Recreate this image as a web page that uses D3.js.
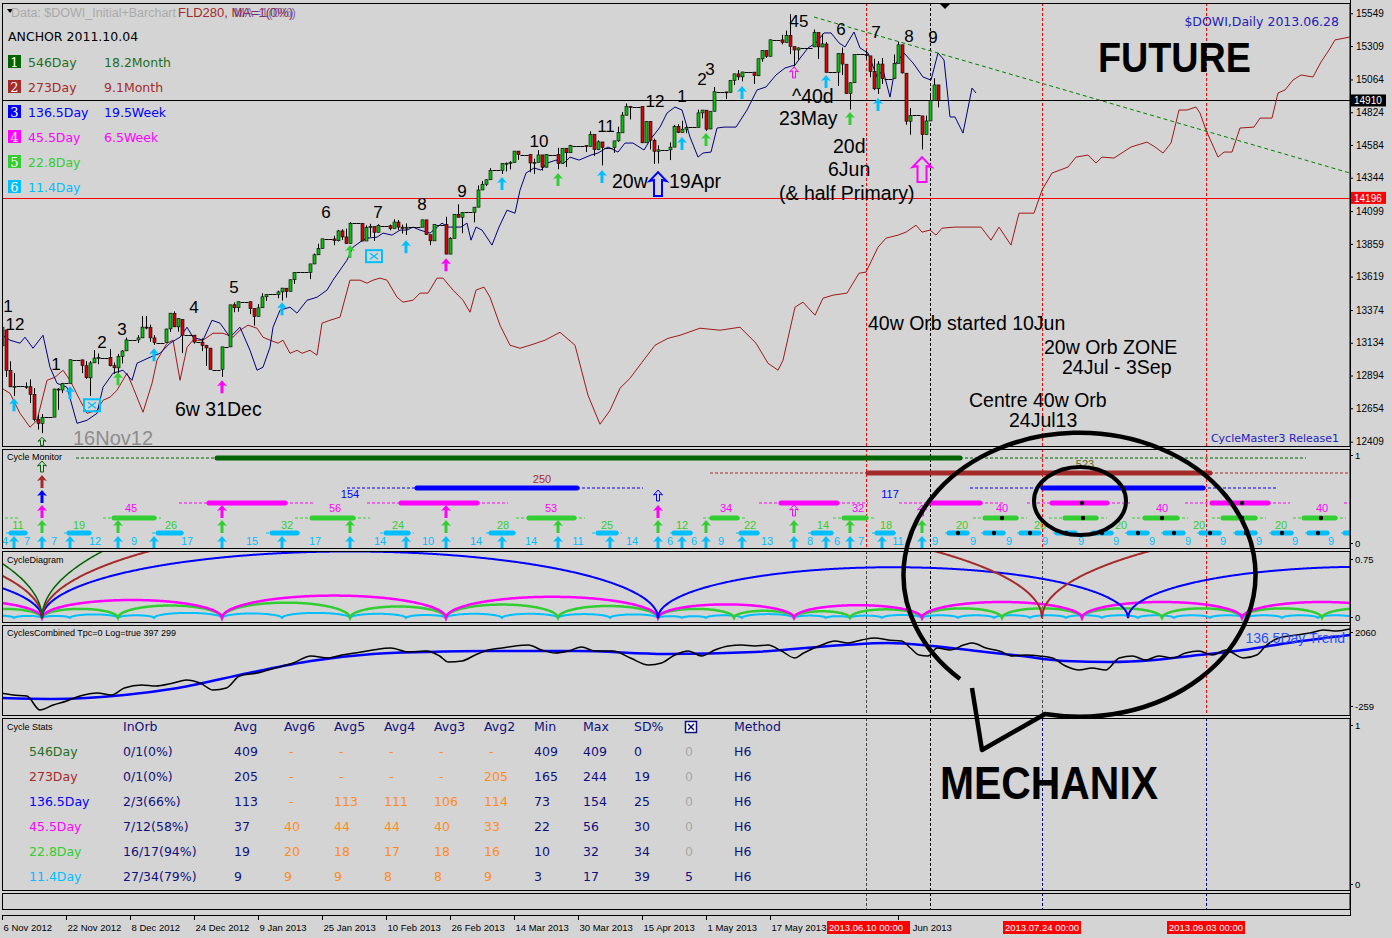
<!DOCTYPE html>
<html><head><meta charset="utf-8">
<script src="https://d3js.org/d3.v7.min.js"></script>
<style>
html,body{margin:0;padding:0;background:#d4d4d4;}
svg{display:block;}
</style></head><body>
<svg id="chart" width="1392" height="938" font-family="Liberation Sans, Arial, sans-serif"></svg>
<script>
// ======================= DATA =======================
// Daily candles: date, open, high, low, close ($DOWI)
const candles = [
["2012-11-06",13112,13290,13109,13245],["2012-11-07",13228,13228,12883,12932],["2012-11-08",12932,12999,12811,12811],
["2012-11-09",12811,12913,12743,12815],["2012-11-12",12815,12844,12796,12815],["2012-11-13",12812,12866,12692,12756],
["2012-11-14",12756,12802,12558,12571],["2012-11-15",12571,12607,12498,12542],["2012-11-16",12542,12611,12471,12588],
["2012-11-19",12589,12796,12589,12795],["2012-11-20",12795,12801,12643,12788],["2012-11-21",12788,12840,12765,12836],
["2012-11-23",12836,13010,12836,13010],["2012-11-26",13009,13009,12912,12968],["2012-11-27",12966,13000,12870,12878],
["2012-11-28",12877,13000,12743,12986],["2012-11-29",12987,13081,12987,13022],["2012-11-30",13022,13056,12977,13026],
["2012-12-03",13026,13088,12961,12966],["2012-12-04",12966,12989,12906,12951],["2012-12-05",12950,13052,12912,13034],
["2012-12-06",13034,13081,12983,13074],["2012-12-07",13075,13172,13075,13155],["2012-12-10",13155,13190,13133,13170],
["2012-12-11",13170,13329,13169,13249],["2012-12-12",13249,13331,13233,13245],["2012-12-13",13245,13267,13142,13170],
["2012-12-14",13170,13190,13119,13135],["2012-12-17",13135,13237,13135,13235],["2012-12-18",13236,13351,13213,13351],
["2012-12-19",13350,13364,13250,13251],["2012-12-20",13251,13312,13215,13312],["2012-12-21",13306,13306,13058,13190],
["2012-12-24",13190,13190,13128,13139],["2012-12-26",13139,13167,13073,13114],["2012-12-27",13114,13119,12964,13096],
["2012-12-28",13095,13095,12938,12938],["2012-12-31",12938,13104,12884,13104],["2013-01-02",13104,13412,13104,13412],
["2013-01-03",13413,13430,13358,13391],["2013-01-04",13391,13436,13362,13435],["2013-01-07",13435,13435,13344,13384],
["2013-01-08",13385,13385,13260,13328],["2013-01-09",13328,13418,13328,13390],["2013-01-10",13391,13497,13391,13471],
["2013-01-11",13471,13489,13441,13488],["2013-01-14",13488,13516,13460,13507],["2013-01-15",13507,13535,13443,13535],
["2013-01-16",13534,13534,13465,13511],["2013-01-17",13511,13598,13511,13596],["2013-01-18",13596,13650,13565,13650],
["2013-01-22",13650,13713,13601,13712],["2013-01-23",13712,13788,13710,13779],["2013-01-24",13779,13860,13778,13825],
["2013-01-25",13825,13895,13825,13896],["2013-01-28",13895,13918,13849,13882],["2013-01-29",13882,13962,13877,13954],
["2013-01-30",13954,13966,13888,13910],["2013-01-31",13910,13970,13858,13861],["2013-02-01",13861,14019,13861,14010],
["2013-02-04",14010,14010,13879,13880],["2013-02-05",13880,13995,13880,13979],["2013-02-06",13979,14006,13910,13987],
["2013-02-07",13986,13986,13881,13944],["2013-02-08",13944,14003,13944,13993],["2013-02-11",13992,14000,13958,13971],
["2013-02-12",13971,14039,13971,14019],["2013-02-13",14019,14035,13961,13982],["2013-02-14",13982,14000,13935,13973],
["2013-02-15",13973,14009,13924,13981],["2013-02-19",13981,14036,13981,14035],["2013-02-20",14035,14035,13926,13927],
["2013-02-21",13926,13926,13849,13881],["2013-02-22",13881,14002,13881,14000],["2013-02-25",14000,14058,13784,13784],
["2013-02-26",13784,13908,13784,13900],["2013-02-27",13900,14076,13900,14076],["2013-02-28",14076,14149,14054,14054],
["2013-03-01",14054,14090,13937,14090],["2013-03-04",14090,14128,14017,14128],["2013-03-05",14128,14287,14128,14254],
["2013-03-06",14254,14320,14254,14296],["2013-03-07",14296,14331,14282,14329],["2013-03-08",14329,14414,14329,14397],
["2013-03-11",14397,14448,14371,14448],["2013-03-12",14448,14456,14390,14450],["2013-03-13",14450,14466,14405,14455],
["2013-03-14",14455,14539,14455,14539],["2013-03-15",14539,14539,14475,14514],["2013-03-18",14514,14514,14384,14452],
["2013-03-19",14452,14484,14372,14456],["2013-03-20",14456,14546,14456,14511],["2013-03-21",14511,14511,14396,14421],
["2013-03-22",14421,14514,14421,14513],["2013-03-25",14513,14563,14406,14448],["2013-03-26",14448,14560,14448,14560],
["2013-03-27",14560,14560,14423,14527],["2013-03-28",14527,14585,14527,14579],["2013-04-01",14579,14580,14532,14573],
["2013-04-02",14573,14684,14573,14662],["2013-04-03",14662,14662,14504,14550],["2013-04-04",14550,14618,14546,14607],
["2013-04-05",14606,14606,14434,14565],["2013-04-08",14565,14613,14526,14614],["2013-04-09",14614,14718,14607,14674],
["2013-04-10",14673,14826,14673,14803],["2013-04-11",14802,14888,14802,14866],["2013-04-12",14866,14866,14771,14865],
["2013-04-15",14865,14865,14598,14600],["2013-04-16",14600,14757,14600,14757],["2013-04-17",14757,14757,14551,14619],
["2013-04-18",14618,14630,14445,14537],["2013-04-19",14537,14581,14449,14548],["2013-04-22",14548,14603,14473,14568],
["2013-04-23",14568,14731,14568,14720],["2013-04-24",14719,14736,14671,14676],["2013-04-25",14676,14761,14676,14700],
["2013-04-26",14700,14725,14670,14712],["2013-04-29",14712,14842,14712,14819],["2013-04-30",14819,14840,14779,14840],
["2013-05-01",14839,14839,14687,14700],["2013-05-02",14701,14831,14701,14831],["2013-05-03",14831,15009,14831,14974],
["2013-05-06",14973,14973,14920,14969],["2013-05-07",14969,15056,14969,15056],["2013-05-08",15056,15106,15023,15105],
["2013-05-09",15105,15133,15060,15083],["2013-05-10",15083,15119,15050,15119],["2013-05-13",15118,15118,15031,15092],
["2013-05-14",15091,15216,15091,15216],["2013-05-15",15215,15277,15194,15276],["2013-05-16",15276,15276,15223,15234],
["2013-05-17",15234,15355,15234,15355],["2013-05-20",15354,15391,15321,15335],["2013-05-21",15335,15422,15335,15388],
["2013-05-22",15387,15542,15250,15307],["2013-05-23",15305,15305,15160,15280],["2013-05-24",15280,15300,15210,15295],
["2013-05-28",15303,15430,15303,15409],["2013-05-29",15408,15408,15215,15303],["2013-05-30",15302,15399,15301,15325],
["2013-05-31",15324,15340,15116,15116],["2013-06-03",15117,15254,15017,15254],["2013-06-04",15253,15298,15097,15177],
["2013-06-05",15176,15176,14958,14960],["2013-06-06",14961,15041,14844,15040],["2013-06-07",15040,15248,15040,15248],
["2013-06-10",15248,15280,15209,15239],["2013-06-11",15237,15237,15080,15122],["2013-06-12",15122,15216,14986,14996],
["2013-06-13",14996,15198,14958,15177],["2013-06-14",15177,15221,15030,15070],["2013-06-17",15070,15247,15070,15180],
["2013-06-18",15180,15340,15180,15318],["2013-06-19",15318,15318,15108,15112],["2013-06-20",15110,15110,14732,14758],
["2013-06-21",14758,14854,14659,14800],["2013-06-24",14797,14797,14551,14660],["2013-06-25",14660,14799,14660,14760],
["2013-06-26",14760,14966,14760,14910],["2013-06-27",14910,15073,14910,15024],["2013-06-28",15024,15024,14860,14910]
];
const priceTicks = [15549,15309,15064,14824,14584,14344,14099,13859,13619,13374,13134,12894,12654,12409];
const lastPrice = 14910, redLevel = 14196;
// Slow FLD (dark red) : [day offset from 6 Nov 2012, price]
const fldSlow = [[-0.5,12808],[2,12764],[4.5,12617],[7,12515],[8.75,12566],[11.25,12859],[13.25,12881],[15.25,12933],[17,12859],[19.5,12713],[21.25,12617],[23.75,12639],[25.25,12713],[27,12735],[28.75,12786],[31.25,12911],[32.75,12808],[35.25,12625],[37.5,12837],[38.75,13006],[41.25,13131],[42.75,13153],[44.5,12859],[46.25,13101],[47.75,13153],[50.25,13153],[52.75,13204],[55.25,13204],[57.75,13175],[59.5,13226],[61.5,13263],[63.75,13241],[65.25,13175],[67,13153],[69,13131],[70.25,13153],[72,13057],[73.75,13079],[75,13057],[77,13079],[78.75,13043],[80,13278],[82,13299],[84.5,13322],[87,13593],[89.5,13593],[91.25,13571],[92.75,13593],[94.5,13608],[96.25,13593],[98.75,13468],[100.25,13432],[102.75,13446],[104.5,13498],[106.5,13498],[108.75,13608],[110.25,13608],[112.75,13520],[115.25,13446],[117,13358],[118.5,13520],[120.5,13542],[122,13468],[124.5,13263],[127,13116],[129.5,13094],[132,13116],[135.75,13153],[139.5,13211],[143.25,13116],[146.5,12749],[149.5,12537],[152,12639],[154.5,12801],[157,12874],[160,12991],[163.25,13116],[166.5,13167],[169.5,13189],[174.5,13241],[179.5,13226],[184.5,13248],[188.5,13131],[191.5,12984],[194,12933],[195.25,13006],[198.25,13395],[200.25,13432],[203.25,13336],[205.25,13461],[207.75,13483],[211.25,13498],[214.25,13644],[216,13652],[219,13835],[221,13901],[224,13923],[226,13945],[228.5,13996],[230,13945],[232,13960],[233.5,13923],[235,13974],[238.25,13982],[244.75,13982],[247.25,13886],[249.25,13982],[252.25,13850],[254.25,14084],[258,14084],[260,14253],[262.5,14378],[266.5,14422],[268.5,14495],[271.5,14510],[273.5,14451],[275,14495],[278,14488],[282.25,14569],[286.25,14605],[288.25,14569],[290.25,14525],[292.25,14598],[294.25,14840],[296.25,14840],[298.5,14862],[299.5,14818],[301,14693],[304,14495],[305.5,14532],[307.5,14532],[309.5,14708],[313,14715],[314.5,14781],[317.5,14781],[319,14965],[320.75,14987],[322.75,15060],[324.75,15097],[327.75,15082],[329.75,15192],[331.75,15280],[333.25,15354],[335.75,15368],[337,15376]];
// Fast FLD (navy)
const fldFast = [[-0.5,13204],[2,13153],[4.5,13131],[5.75,13175],[7.75,13094],[10.25,13189],[12,12955],[13.75,12837],[16.25,12808],[18.75,12544],[21.25,12566],[23.75,12617],[25.25,12808],[27.75,12911],[30.25,12933],[32.5,12859],[33.75,12984],[37,13028],[39.5,13057],[42,13131],[44.5,13175],[46.25,13248],[47.75,13175],[50.25,13153],[52.5,13299],[54.5,13278],[57,13175],[59.5,13248],[62,13079],[63.75,12933],[65.25,12955],[67,13101],[67.75,13248],[69.5,13373],[72,13395],[73.75,13351],[76.25,13446],[78.75,13468],[81.25,13520],[82.75,13593],[86.25,13740],[87.75,13835],[89.5,13872],[91.25,13901],[93.75,13908],[95.25,13938],[97.5,13923],[99.5,13960],[101.25,13960],[102.75,13982],[104.5,13960],[107,13938],[110,14011],[111.5,13982],[114.75,13982],[116.25,14011],[117.25,13886],[118.5,13982],[120,13960],[122.5,13850],[124.25,13982],[126.25,14106],[128.25,14084],[129.5,14253],[131,14378],[133,14415],[134.75,14400],[136.25,14451],[138.5,14473],[140.5,14451],[142,14495],[144.25,14473],[147.25,14510],[149,14525],[151.5,14569],[154,14532],[155.75,14598],[157.75,14598],[160.5,14547],[162,14620],[164.5,14715],[166.25,14818],[168.25,14862],[170,14840],[172,14642],[174,14495],[175.25,14525],[177.25,14532],[178.75,14708],[180.5,14715],[183.5,14715],[186.25,14840],[188.75,14987],[191,15009],[193.5,15097],[195.75,15148],[198.25,15170],[199.75,15229],[201.5,15295],[203.5,15332],[205.5,15405],[207.25,15405],[209.25,15332],[210.75,15302],[213,15412],[214.5,15295],[216.5,15258],[218.75,15082],[220.25,15133],[222,14935],[223.5,15185],[225.5,15258],[227.75,15185],[230.25,15082],[232.25,15060],[234,15258],[235.5,15207],[237,14789],[238.25,14789],[240.25,14671],[242.5,15001],[243.5,14965]];
const trendLine = [[203,15522],[337,14378]];
// price-panel cycle arrows [day, price at tip]
const cyanMarks = [[3,12727],[17,12815],[38,13094],[70,13432],[101,13886],[125,14349],[150,14400],[170,14642],[185,15016],[206,15097],[219,14928]];
const greenMarks = [[29,12918],[87,13850],[139,14378],[176,14671],[212,14825]];
const magentaMarks = [[55,12859],[111,13754]];
const cyanBoxes = [[22.5,12676],[93,13769]];
const peakLabels = [[1.5,13358,"1"],[3.25,13226,"12"],[13.5,12933,"1"],[25,13094,"2"],[30,13189,"3"],[48,13351,"4"],[58,13498,"5"],[81,14048,"6"],[94,14048,"7"],[105,14106,"8"],[115,14202,"9"],[134.25,14569,"10"],[151,14679,"11"],[163.25,14862,"12"],[170,14899,"1"],[175,15023,"2"],[177,15097,"3"],[199.25,15449,"45"],[209.75,15390,"6"],[218.5,15368,"7"],[226.75,15339,"8"],[232.75,15332,"9"]];
const notes = [[43.25,12595,"6w 31Dec"],[152.5,14268,"20w"],[166.75,14268,"19Apr"],[197.5,14891,"^40d"],[194.25,14730,"23May"],[207.75,14525,"20d"],[206.5,14356,"6Jun"],[194.25,14180,"(& half Primary)"],[216.5,13226,"40w Orb started 10Jun"],[260.5,13050,"20w Orb ZONE"],[265,12905,"24Jul - 3Sep"],[241.75,12660,"Centre 40w Orb"],[251.75,12515,"24Jul13"]];
const xTicks = [[0,"6 Nov 2012"],[16,"22 Nov 2012"],[32,"8 Dec 2012"],[48,"24 Dec 2012"],[64,"9 Jan 2013"],[80,"25 Jan 2013"],[96,"10 Feb 2013"],[112,"26 Feb 2013"],[128,"14 Mar 2013"],[144,"30 Mar 2013"],[160,"15 Apr 2013"],[176,"1 May 2013"],[192,"17 May 2013"],[224,"18 Jun 2013"]];
const markerDays = [[216,"2013.06.10 00:00"],[260,"2013.07.24 00:00"],[301,"2013.09.03 00:00"]];
const nowDay = 232;
// legend
const legendCycles = [["1","546Day","18.2Month"],["2","273Day","9.1Month"],["3","136.5Day","19.5Week"],["4","45.5Day","6.5Week"],["5","22.8Day",""],["6","11.4Day",""]];
// cycle monitor bars [dashStart, thickStart, thickEnd, dashEnd] (days)
const monDkGreen = [[18.5,53.75,239.5,326]];
const monBrown = [[177,216.5,302,337]];
const monBlue = [[86.25,103.75,143.75,160.25],[242,260.25,300.25,318.75]];
const monMagenta = [[44.25,51.75,70.75,78.25],[91.25,99.75,118.75,126.5],[189.25,194.75,208.75,216.5],[224.25,231.75,244.5,250.25],[256.25,262.5,276.25,282],[295.75,302.5,316.5,322],[335.5,337,337,337]];
const monMagentaDots = [270,310];
const monGreen = [[-0.5,-0.5,-0.5,4.5],[25.25,28,38,39.75],[73.25,77.5,87.75,92],[128.5,131.75,143,145.75],[175.25,177.5,183.75,186.25],[207.75,210.5,216,218.25],[242.75,245.75,253.5,256.25],[261.75,265.75,273.5,276.25],[282.5,285.75,293.75,296.5],[302.5,305.25,313.25,316],[322.75,325.5,333.25,336]];
const monGreenDots = [250,270.25,290,310,329.75];
const monCyan = [[1,2.25,5.75,7],[15.5,16.75,21.75,23],[37.5,39,44.75,46],[66,67.5,73.75,75],[94.5,96,101.5,103],[121,122.25,127.75,129],[147.5,149,153.5,155],[167,168,172,173],[183.5,184.75,188.75,190],[201.5,202.75,207.25,208.5],[217.5,218.75,222.75,224],[235.75,236.75,241.25,242.25],[244.75,245.75,250.25,251.25],[253.75,254.75,259.25,260.25],[262.75,263.75,268.25,269.25],[271.75,272.75,277.25,278.25],[280.75,281.75,286.25,287.25],[289.75,290.75,295.25,296.25],[298.75,299.75,304.25,305.25],[307.75,308.75,313.25,314.25],[316.75,317.75,322.25,323.25],[325.75,326.75,331.25,332.25],[334.75,335.75,337,337]];
const monCyanDots = [239,248,257,266,275,284,293,302,311,320,329];
const monMagentaLabels = [[32.25,"45"],[83.25,"56"],[137.25,"53"],[181,"34"],[214,"32"],[250,"40"],[290,"40"],[330,"40"]];
const monGreenLabels = [[4,"11"],[19.25,"19"],[42.25,"26"],[71.25,"32"],[99,"24"],[125.25,"28"],[151.25,"25"],[170,"12"],[187,"22"],[205.25,"14"],[221,"18"],[240,"20"],[259.5,"20"],[279.75,"20"],[299.25,"20"],[319.75,"20"]];
const monCyanLabels = [[0.75,"4"],[6.25,"7"],[13,"7"],[23.25,"12"],[33,"9"],[46.25,"17"],[62.5,"15"],[78.25,"17"],[94.5,"14"],[106.5,"10"],[118.5,"14"],[132.25,"14"],[144,"11"],[157.5,"14"],[167,"6"],[173,"6"],[179.75,"9"],[191.25,"13"],[202,"8"],[208.75,"6"],[214.75,"7"],[224,"11"],[233.25,"9"],[242.75,"9"],[251.75,"9"],[260.75,"9"],[269.75,"9"],[278.5,"9"],[287.5,"9"],[296.5,"9"],[305.25,"9"],[314.25,"9"],[323.25,"9"],[332.25,"9"]];
const monCyanArrows = [3,10,17,29,38,55,70,87,101,111,125,139,152,164,170,176,185,198,206,212,220,230];
const monGreenArrows = [10,29,55,87,111,139,164,176,198,212,230];
const monMagentaArrows = [10,55,111,164];
const monMagentaHollow = [198,230];
// cycle diagram troughs (days) per cycle
const trCyan = [-5,3,10,17,29,38,55,70,87,101,111,125,139,152,164,170,176,185,198,206,212,220,230,239,248,257,266,275,284,293,302,311,320,329,338];
const trGreen = [-9,10,29,55,87,111,139,164,183,198,212,230,250,270,290,310,330,350];
const trMagenta = [-35,10,55,111,164,198,230,270,310,350];
const trBlue = [-120,10,164,281.5,400];
const trBrown = [-240,10,260,510];
const trDkGreen = [-400,10,420];
// cycles combined
const combined = [[-0.5,199],[2.8,138],[6.2,107],[9.5,-320],[12.8,-167],[16.2,-45],[19.5,107],[23.9,199],[27.3,138],[30.6,351],[35,443],[38.4,412],[42.8,504],[46.1,595],[49.5,504],[52.8,290],[56.1,351],[59.4,717],[63.9,809],[68.3,961],[72.8,1114],[77.2,1328],[81.6,1267],[85,1358],[88.3,1419],[92.7,1511],[97.2,1572],[101.6,1450],[106.1,1480],[109.4,1328],[111.6,1144],[115,1175],[118.3,1358],[121.6,1511],[125,1572],[128.3,1633],[131.6,1663],[134.9,1511],[138.3,1419],[141.6,1480],[144.9,1602],[148.2,1480],[152.7,1480],[157.1,1267],[161.6,1053],[164.9,1114],[168.2,1358],[171.6,1480],[174.9,1328],[178.2,1511],[181.6,1633],[184.9,1663],[188.2,1633],[191.5,1663],[194.9,1480],[198.2,1267],[200.4,1419],[204.9,1663],[208.2,1785],[211.5,1724],[214.9,1816],[218.2,1877],[221.5,1816],[224.9,1785],[227.1,1572],[229.3,1358],[231.5,1328],[233.8,1572],[237.1,1511],[240.4,1663],[242.6,1724],[246,1572],[249.3,1480],[252.6,1328],[255.9,1358],[259.3,1328],[262.6,1267],[265.9,1022],[269.3,900],[272.5,961],[275.9,900],[279.3,1267],[282.6,1328],[285.9,1205],[289.2,1328],[292.6,1267],[295.9,1419],[299.2,1480],[302.6,1358],[305.9,1511],[310.3,1267],[313.7,1358],[315.9,1633],[319.2,1877],[323.7,1968],[327,2029],[330.3,2121],[333.7,2090],[337,2151]];
const trend1365 = [[-0.5,46],[12.8,16],[30.6,138],[44,351],[61.7,809],[77.2,1175],[92.7,1389],[106.1,1450],[121.6,1480],[143.8,1480],[166,1389],[188.2,1450],[210.4,1663],[221.5,1724],[232.6,1633],[243.8,1480],[254.9,1328],[265.9,1175],[277,1144],[288.1,1205],[299.2,1358],[310.3,1511],[321.4,1724],[337,1968]];
// cycle stats table
const statCycles = ["546Day","273Day","136.5Day","45.5Day","22.8Day","11.4Day"];
const statInOrb = ["0/1(0%)","0/1(0%)","2/3(66%)","7/12(58%)","16/17(94%)","27/34(79%)"];
const statAvg = [409,205,113,37,19,9];
const statAvg6 = ["-","-","-",40,20,9];
const statAvg5 = ["-","-",113,44,18,9];
const statAvg4 = ["-","-",111,44,17,8];
const statAvg3 = ["-","-",106,40,18,8];
const statAvg2 = ["-",205,114,33,16,9];
const statMin = [409,165,73,22,10,3];
const statMax = [409,244,154,56,32,17];
const statSD = [0,19,25,30,34,39];
const statX = [0,0,0,0,0,5];
const statMethod = ["H6","H6","H6","H6","H6","H6"];

// ======================= DRAWING =======================
const svg = d3.select("#chart");
const BG = "#d4d4d4";
const CY="#00bfff", GR="#32cd32", MG="#ff00ff", BL="#0000ff", BR="#a52a2a", DG="#006400";
const DJ = "DejaVu Sans";
const t0 = new Date(2012,10,6);
const dayOf = s => { const [Y,M,D] = s.split("-").map(Number); return d3.timeDay.count(t0, new Date(Y,M-1,D)); };
const x = d3.scaleLinear().domain([0,337]).range([2,1350]);
const y = d3.scaleLinear().domain([12409,15549]).range([441.7,13.3]);
const yDiag = d3.scaleLinear().domain([0,0.75]).range([618,559]);
const yComb = d3.scaleLinear().domain([-259,2060]).range([708,632]);

svg.append("rect").attr("width",1392).attr("height",938).attr("fill",BG);
const panels = [[3,446],[449,548],[551,622],[625,715],[718,890],[893,909]];
const defs = svg.append("defs");
panels.forEach((p,i)=>{
  defs.append("clipPath").attr("id","clip"+i).append("rect").attr("x",2).attr("y",p[0]).attr("width",1348).attr("height",p[1]-p[0]);
});
const gP = panels.map((p,i)=> svg.append("g").attr("clip-path",`url(#clip${i})`));

// ---- vertical day lines
function vline(g, d, top, bot, color, dash){
  g.append("line").attr("x1",Math.round(x(d))+0.5).attr("x2",Math.round(x(d))+0.5).attr("y1",top).attr("y2",bot)
   .attr("stroke",color).attr("stroke-width",1).attr("stroke-dasharray",dash||"3,2");
}
[0,1].forEach(i=>{
  vline(gP[i],216,panels[i][0],panels[i][1],"#ff0000");
  vline(gP[i],nowDay,panels[i][0],panels[i][1],"#000");
  vline(gP[i],260,panels[i][0],panels[i][1],"#ff0000");
  vline(gP[i],301,panels[i][0],panels[i][1],"#ff0000");
});
[2,3].forEach(i=>{
  vline(gP[i],216,panels[i][0],panels[i][1],"#444");
  vline(gP[i],nowDay,panels[i][0],panels[i][1],"#000");
  vline(gP[i],260,panels[i][0],panels[i][1],"#444");
  vline(gP[i],301,panels[i][0],panels[i][1],"#ff0000");
});
[4,5].forEach(i=>{
  vline(gP[i],216,panels[i][0],panels[i][1],"#444");
  vline(gP[i],nowDay,panels[i][0],panels[i][1],"#000");
  vline(gP[i],260,panels[i][0],panels[i][1],"#000080");
  vline(gP[i],301,panels[i][0],panels[i][1],"#000080");
});

// ---- main price panel
const g0 = gP[0];
g0.append("line").attr("x1",2).attr("x2",1350).attr("y1",Math.round(y(lastPrice))+0.5).attr("y2",Math.round(y(lastPrice))+0.5).attr("stroke","#000");
g0.append("line").attr("x1",2).attr("x2",1350).attr("y1",Math.round(y(redLevel))+0.5).attr("y2",Math.round(y(redLevel))+0.5).attr("stroke","#ff0000");
const line = d3.line().x(d=>x(d[0])).y(d=>y(d[1]));
g0.append("path").attr("d",line(fldSlow)).attr("fill","none").attr("stroke","#a01818").attr("stroke-width",1);
g0.append("path").attr("d",line(fldFast)).attr("fill","none").attr("stroke","#000080").attr("stroke-width",1);
g0.append("path").attr("d",line(trendLine)).attr("fill","none").attr("stroke","#008000").attr("stroke-width",1).attr("stroke-dasharray","4,3");

// candles + weekend dashes
const cmap = new Map(candles.map(c=>[dayOf(c[0]),c]));
const lastDay = d3.max(candles, c=>dayOf(c[0]));
let prevClose = candles[0][4];
for(let d=0; d<=lastDay; d++){
  const cx = Math.round(x(d));
  const c = cmap.get(d);
  if(!c){
    g0.append("line").attr("x1",cx-1.5).attr("x2",cx+2.5).attr("y1",Math.round(y(prevClose))+0.5).attr("y2",Math.round(y(prevClose))+0.5).attr("stroke","#000");
    continue;
  }
  const [,o,h,l,cl] = c;
  g0.append("line").attr("x1",cx+0.5).attr("x2",cx+0.5).attr("y1",y(h)).attr("y2",y(l)).attr("stroke","#000");
  const top = Math.min(y(o),y(cl)), ht = Math.max(1,Math.abs(y(o)-y(cl)));
  g0.append("rect").attr("x",cx-1).attr("y",top).attr("width",3).attr("height",ht)
    .attr("fill", cl>=o ? "#00c800" : "#e00000").attr("stroke","#000").attr("stroke-width",0.6);
  prevClose = cl;
}

function upArrow(cx, tip, w, h, sw, hh){
  return `M${cx},${tip} L${cx+w/2},${tip+hh} L${cx+sw/2},${tip+hh-1} L${cx+sw/2},${tip+h} L${cx-sw/2},${tip+h} L${cx-sw/2},${tip+hh-1} L${cx-w/2},${tip+hh} Z`;
}
function marks(g, arr, color){
  arr.forEach(([d,p])=> g.append("path").attr("d",upArrow(x(d),y(p),10,13,3,6)).attr("fill",color));
}
marks(g0,cyanMarks,CY); marks(g0,greenMarks,GR); marks(g0,magentaMarks,MG);
cyanBoxes.forEach(([d,p])=>{
  const cx=x(d), cy=y(p);
  g0.append("rect").attr("x",cx-8).attr("y",cy-6).attr("width",16).attr("height",12).attr("fill","none").attr("stroke",CY).attr("stroke-width",2);
  g0.append("path").attr("d",`M${cx-4},${cy-3} L${cx+4},${cy+3} M${cx+4},${cy-3} L${cx-4},${cy+3}`).attr("stroke",CY).attr("stroke-width",1.3);
});
// hollow arrows
g0.append("path").attr("d",upArrow(x(198),y(15156),9,11,3,5)).attr("fill","none").attr("stroke",MG).attr("stroke-width",1);
g0.append("path").attr("d",upArrow(x(164),y(14385),17,24,8,9)).attr("fill","none").attr("stroke",BL).attr("stroke-width",2);
g0.append("path").attr("d",upArrow(x(230),y(14495),19,25,9,10)).attr("fill","none").attr("stroke",MG).attr("stroke-width",2);
g0.append("path").attr("d",upArrow(x(10),y(12441),8,8,3,4)).attr("fill","none").attr("stroke",DG).attr("stroke-width",1);

peakLabels.forEach(([d,p,t])=> g0.append("text").attr("x",x(d)).attr("y",y(p)).attr("text-anchor","middle").attr("font-size",17).attr("fill","#000").text(t));
notes.forEach(([d,p,t])=> g0.append("text").attr("x",x(d)).attr("y",y(p)).attr("font-size",19.5).attr("fill","#000").text(t));
g0.append("text").attr("x",x(17.75)).attr("y",y(12382)).attr("font-size",20).attr("fill","#8c8c8c").text("16Nov12");
g0.append("text").attr("x",x(274)).attr("y",y(15119)).attr("font-size",42).attr("font-weight","bold").attr("textLength",153).attr("lengthAdjust","spacingAndGlyphs").attr("fill","#000").text("FUTURE");
// top annotations
g0.append("path").attr("d","M7,9 L13,9 L10,13 Z").attr("fill","#000");
g0.append("text").attr("x",11).attr("y",17).attr("font-size",12.5).attr("fill","#aaaaaa").text("Data: $DOWI_Initial+Barchart");
g0.append("text").attr("x",178).attr("y",17).attr("font-size",13).attr("fill","#a52a2a").text("FLD280, MA=1(0%)");
g0.append("text").attr("x",234).attr("y",17).attr("font-size",13).attr("fill","#3030c0").attr("opacity",0.6).text("MA=1(0%)");
g0.append("text").attr("x",8).attr("y",41).attr("font-family",DJ).attr("font-size",12.5).attr("fill","#000").text("ANCHOR 2011.10.04");
const legCols = [DG,BR,BL,MG,GR,CY];
const legText = ["#1f6f1f",BR,BL,MG,GR,CY];
legendCycles.forEach(([n,a,b],i)=>{
  const yy = 55 + i*25;
  g0.append("rect").attr("x",8).attr("y",yy).attr("width",13).attr("height",13).attr("fill",legCols[i]);
  g0.append("text").attr("x",14.5).attr("y",yy+12).attr("text-anchor","middle").attr("font-family","DejaVu Serif").attr("font-size",13).attr("fill","#fff").text(n);
  g0.append("text").attr("x",28).attr("y",yy+11.5).attr("font-family",DJ).attr("font-size",12.5).attr("fill",legText[i]).text(a);
  if(b) g0.append("text").attr("x",104).attr("y",yy+11.5).attr("font-family",DJ).attr("font-size",12.5).attr("fill",legText[i]).text(b);
});
g0.append("text").attr("x",1339).attr("y",26).attr("text-anchor","end").attr("font-family",DJ).attr("font-size",12.5).attr("fill","#2222bb").text("$DOWI,Daily 2013.06.28");
g0.append("text").attr("x",1339).attr("y",442).attr("text-anchor","end").attr("font-family",DJ).attr("font-size",11).attr("fill","#2222bb").text("CycleMaster3 Release1");
svg.append("path").attr("d","M940,4 L950,4 L945,9 Z").attr("fill","#000");

// ---- cycle monitor
const g1 = gP[1];
g1.append("text").attr("x",7).attr("y",460).attr("font-size",9).attr("fill","#000").text("Cycle Monitor");
function bars(g, arr, yy, color, thick){
  arr.forEach(([a,b,c,d])=>{
    if(b>a) g.append("line").attr("x1",x(a)).attr("x2",x(b)).attr("y1",yy).attr("y2",yy).attr("stroke",color).attr("stroke-dasharray","3,2");
    if(d>c) g.append("line").attr("x1",x(c)).attr("x2",x(d)).attr("y1",yy).attr("y2",yy).attr("stroke",color).attr("stroke-dasharray","3,2");
    if(c>b) g.append("line").attr("x1",x(b)).attr("x2",x(c)).attr("y1",yy).attr("y2",yy).attr("stroke",color).attr("stroke-width",thick).attr("stroke-linecap","round");
  });
}
bars(g1,monDkGreen,458,DG,5);
bars(g1,monBrown,473,BR,5);
bars(g1,monBlue,488,BL,5);
bars(g1,monMagenta,503,MG,5);
bars(g1,monGreen,518,GR,5);
bars(g1,monCyan,533,CY,5);
function dots(g, arr, yy){ arr.forEach(d=> g.append("circle").attr("cx",x(d)).attr("cy",yy).attr("r",2.2).attr("fill","#000")); }
dots(g1,monMagentaDots,503); dots(g1,monGreenDots,518); dots(g1,monCyanDots,533);
function labels(g, arr, yy, color){ arr.forEach(([d,t])=> g.append("text").attr("x",x(d)).attr("y",yy).attr("text-anchor","middle").attr("font-size",11).attr("fill",color).text(t)); }
labels(g1,monMagentaLabels,512,MG);
labels(g1,monGreenLabels,529,GR);
labels(g1,monCyanLabels,545,CY);
g1.append("text").attr("x",x(87)).attr("y",498).attr("text-anchor","middle").attr("font-size",11).attr("fill",BL).text("154");
g1.append("text").attr("x",x(222)).attr("y",498).attr("text-anchor","middle").attr("font-size",11).attr("fill",BL).text("117");
g1.append("text").attr("x",x(135)).attr("y",483).attr("text-anchor","middle").attr("font-size",11).attr("fill",BR).text("250");
g1.append("text").attr("x",x(270.75)).attr("y",468).attr("text-anchor","middle").attr("font-size",11).attr("fill","#5a6b10").text("523");
monCyanArrows.forEach(d=> g1.append("path").attr("d",upArrow(x(d),536,10,13,3,6)).attr("fill",CY));
monGreenArrows.forEach(d=> g1.append("path").attr("d",upArrow(x(d),520,10,13,3,6)).attr("fill",GR));
monMagentaArrows.forEach(d=> g1.append("path").attr("d",upArrow(x(d),505,10,13,3,6)).attr("fill",MG));
monMagentaHollow.forEach(d=> g1.append("path").attr("d",upArrow(x(d),505,9,11,3,5)).attr("fill","none").attr("stroke",MG));
g1.append("path").attr("d",upArrow(x(10),490,10,13,3,6)).attr("fill",BL);
g1.append("path").attr("d",upArrow(x(164),490,9,11,3,5)).attr("fill","none").attr("stroke",BL);
g1.append("path").attr("d",upArrow(x(10),475,10,13,3,6)).attr("fill",BR);
g1.append("path").attr("d",upArrow(x(10),461,9,11,3,5)).attr("fill","none").attr("stroke",DG);

// ---- cycle diagram
const g2 = gP[2];
function arcs(g, tr, ratio, color, w){
  const pts=[];
  for(let i=0;i<tr.length-1;i++){
    const x1=x(tr[i]), x2=x(tr[i+1]), c=(x1+x2)/2, R=(x2-x1)/2, Hh=ratio*(x2-x1);
    const base = yDiag(0);
    for(let px=x1; px<=x2; px+=1){
      const u=(px-c)/R; pts.push([px, base - Hh*Math.sqrt(Math.max(0,1-u*u))]);
    }
    pts.push([x2, base]);
  }
  g.append("path").attr("d",d3.line()(pts)).attr("fill","none").attr("stroke",color).attr("stroke-width",w);
}
arcs(g2,trCyan,0.075,CY,2);
arcs(g2,trGreen,0.12,GR,2.5);
arcs(g2,trMagenta,0.10,MG,2.5);
arcs(g2,trBlue,0.108,BL,2);
arcs(g2,trBrown,0.108,BR,2);
arcs(g2,trDkGreen,0.108,DG,1.5);
g2.append("text").attr("x",7).attr("y",563).attr("font-size",9).attr("fill","#000").text("CycleDiagram");

// ---- cycles combined
const g3 = gP[3];
const lineC = d3.line().x(d=>x(d[0])).y(d=>yComb(d[1])).curve(d3.curveMonotoneX);
g3.append("path").attr("d",lineC(trend1365)).attr("fill","none").attr("stroke",BL).attr("stroke-width",2.5);
g3.append("path").attr("d",lineC(combined)).attr("fill","none").attr("stroke","#000").attr("stroke-width",1.5);
g3.append("text").attr("x",7).attr("y",636).attr("font-size",9).attr("fill","#000").text("CyclesCombined Tpc=0 Log=true 397 299");
g3.append("text").attr("x",1345).attr("y",643).attr("text-anchor","end").attr("font-size",14).attr("fill","#2850ff").text("136.5Day Trend");

// ---- cycle stats
const g4 = gP[4];
const NAVY="#10107a", ORG="#ff8c1a", GRY="#a8a8a8";
const colX = {inorb:123,avg:234,a6:284,a5:334,a4:384,a3:434,a2:484,min:534,max:583,sd:634,xx:685,m:734};
const tf = (g,xx,yy,t,col)=> g.append("text").attr("x",xx).attr("y",yy).attr("font-family",DJ).attr("font-size",12.5).attr("fill",col).text(t);
g4.append("text").attr("x",7).attr("y",730).attr("font-size",9).attr("fill","#000").text("Cycle Stats");
[["InOrb",colX.inorb],["Avg",colX.avg],["Avg6",colX.a6],["Avg5",colX.a5],["Avg4",colX.a4],["Avg3",colX.a3],["Avg2",colX.a2],["Min",colX.min],["Max",colX.max],["SD%",colX.sd],["Method",colX.m]].forEach(([t,xx])=>tf(g4,xx,731,t,NAVY));
g4.append("rect").attr("x",685.5).attr("y",721.5).attr("width",11).attr("height",11).attr("fill","#fff").attr("stroke",NAVY).attr("stroke-width",1.5);
g4.append("path").attr("d","M688,724 L694,730 M694,724 L688,730").attr("stroke",NAVY).attr("stroke-width",1.5);
statCycles.forEach((c,i)=>{
  const yy = 756 + i*25;
  tf(g4,29,yy,c,legText[i]);
  tf(g4,colX.inorb,yy,statInOrb[i],NAVY);
  tf(g4,colX.avg,yy,statAvg[i],NAVY);
  [[statAvg6,colX.a6],[statAvg5,colX.a5],[statAvg4,colX.a4],[statAvg3,colX.a3],[statAvg2,colX.a2]].forEach(([arr,xx])=>{
    const v=arr[i]; tf(g4, v==="-"? xx+5 : xx, yy, v, ORG);
  });
  tf(g4,colX.min,yy,statMin[i],NAVY);
  tf(g4,colX.max,yy,statMax[i],NAVY);
  tf(g4,colX.sd,yy,statSD[i],NAVY);
  tf(g4,colX.xx,yy,statX[i], statX[i]===0?GRY:NAVY);
  tf(g4,colX.m,yy,statMethod[i],NAVY);
});

// ---- panel frames
panels.forEach(p=> svg.append("rect").attr("x",2.5).attr("y",p[0]+0.5).attr("width",1347.5).attr("height",p[1]-p[0]).attr("fill","none").attr("stroke","#000"));

// ---- right axes
const axG = svg.append("g").attr("transform","translate(1350,0)");
axG.call(d3.axisRight(y).tickValues(priceTicks).tickFormat(d3.format("d")).tickSize(3).tickPadding(3));
axG.select(".domain").remove();
axG.selectAll("text").attr("font-size",10).attr("font-family","Liberation Sans").attr("fill","#000");
function priceBox(v, bg){
  const yy = y(v);
  svg.append("rect").attr("x",1351).attr("y",yy-6).attr("width",35).attr("height",12).attr("fill",bg);
  svg.append("text").attr("x",1354).attr("y",yy+4).attr("font-size",10).attr("fill","#fff").text(v);
}
priceBox(lastPrice,"#000"); priceBox(redLevel,"#ff0000");
[[455,"1"],[543,"0"],[559,"0.75"],[617,"0"],[632,"2060"],[706,"-259"],[725,"1"],[884,"0"]].forEach(([yy,t])=>{
  svg.append("line").attr("x1",1350).attr("x2",1353).attr("y1",yy+0.5).attr("y2",yy+0.5).attr("stroke","#000");
  svg.append("text").attr("x",1355).attr("y",yy+3.5).attr("font-size",9.5).attr("fill","#000").text(t);
});
svg.append("line").attr("x1",1350.5).attr("x2",1350.5).attr("y1",0).attr("y2",916).attr("stroke","#000");

// ---- x axis
svg.append("line").attr("x1",2).attr("x2",1350).attr("y1",915.5).attr("y2",915.5).attr("stroke","#000");
xTicks.forEach(([d,t])=>{
  const xx = Math.round(x(d))+0.5;
  svg.append("line").attr("x1",xx).attr("x2",xx).attr("y1",915).attr("y2",920).attr("stroke","#000");
  svg.append("text").attr("x",xx+1).attr("y",931).attr("font-size",9.5).attr("fill","#000").text(t);
});
markerDays.forEach(([d,t],i)=>{
  const xx = x(d);
  const w = i===0 ? 83 : 78;
  svg.append("rect").attr("x",xx-39).attr("y",921).attr("width",w).attr("height",13).attr("fill","#ff0000");
  svg.append("text").attr("x",xx).attr("y",931).attr("text-anchor","middle").attr("font-size",9.5).attr("fill","#fff").text(t);
});

// ---- callout (hand drawn overlay)
svg.append("path").attr("d","M960,679 A176,142 0 1 1 1045,714 L982,750 L972,688").attr("fill","none").attr("stroke","#000").attr("stroke-width",4.5).attr("stroke-linejoin","round");
svg.append("ellipse").attr("cx",1080).attr("cy",501).attr("rx",46).attr("ry",34).attr("fill","none").attr("stroke","#000").attr("stroke-width",4);
svg.append("text").attr("x",940).attr("y",799).attr("font-size",46).attr("font-weight","bold").attr("textLength",218).attr("lengthAdjust","spacingAndGlyphs").attr("fill","#000").text("MECHANIX");
</script></body></html>
